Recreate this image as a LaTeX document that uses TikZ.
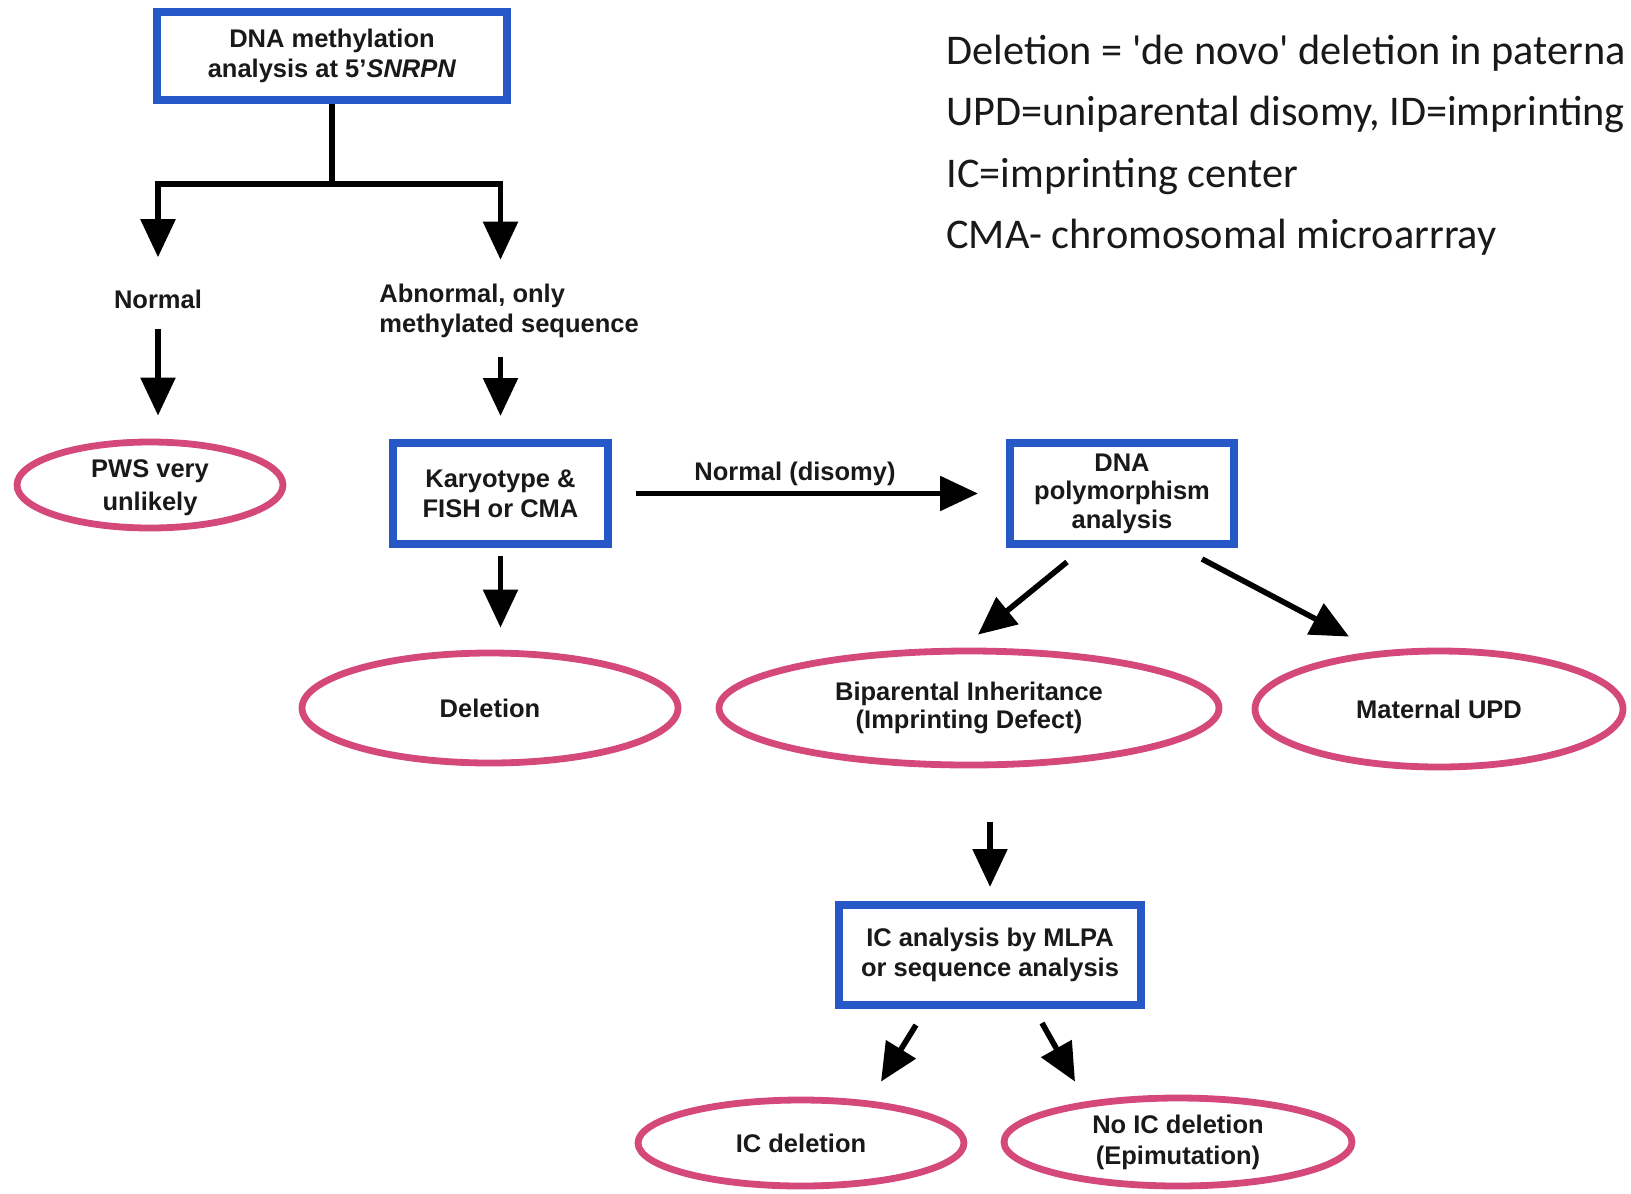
\documentclass[tikz,border=0pt]{standalone}
\usepackage{fontspec}
\setmainfont{Liberation Sans}
\newfontfamily\legendfont{Carlito}
\usetikzlibrary{arrows.meta,shapes.geometric,calc}
\definecolor{boxblue}{RGB}{38,88,200}
\definecolor{ovalpink}{RGB}{212,72,122}
\definecolor{ink}{RGB}{25,25,25}
\begin{document}
\begin{tikzpicture}[x=0.5pt,y=-0.5pt,
  every node/.style={text=ink, font=\fontsize{12.75}{15}\selectfont\bfseries},
  bluebox/.style={draw=boxblue, line width=4pt, fill=white, align=center, inner sep=0pt},
  oval/.style={ellipse, draw=ovalpink, line width=3.4pt, fill=white, align=center, inner sep=0pt},
  lbl/.style={inner sep=0pt, align=center},
  conn/.style={draw=black, line width=2.8pt},
  arr/.style={conn, -{Triangle[length=19pt,width=17pt]}},
  legend/.style={inner sep=0pt, anchor=base west, font=\legendfont\fontsize{21.15}{25}\selectfont}
]
\path[use as bounding box, fill=white] (0,0) rectangle (1631,1193);

% legend
\node[legend] (l1) at (946,64.5) {Deletion = \textquotesingle de novo\textquotesingle{} deletion in paterna};
\node[legend] (l2) at (946,125.5) {UPD=uniparental disomy, ID=imprinting};
\node[legend] (l3) at (946,187.5) {IC=imprinting center};
\node[legend] (l4) at (946,248.5) {CMA- chromosomal microarrray};

% nodes
\node[bluebox, minimum width=175pt, minimum height=44pt] (top) at (332,56) {DNA methylation\\analysis at 5'\textit{SNRPN}};
\node[lbl] (normal) at (158,299) {Normal};
\node[lbl, anchor=west, align=left] (abn) at (379,311) {Abnormal, only\\methylated sequence};
\node[oval, minimum width=133pt, minimum height=43pt, text depth=0pt, font=\fontsize{12.75}{16.5}\selectfont\bfseries] (pws) at (150,485) {PWS very\\unlikely};
\node[bluebox, minimum width=107.5pt, minimum height=50.5pt] (kar) at (500.5,493.5) {Karyotype \&\\FISH or CMA};
\node[bluebox, minimum width=112pt, minimum height=50.5pt, font=\fontsize{12.75}{14.3}\selectfont\bfseries] (poly) at (1122,493.5) {DNA\\polymorphism\\analysis};
\node[lbl] (disomy) at (795,474) {Normal (disomy)};
\node[oval, minimum width=188pt, minimum height=55pt] (del) at (490,708) {Deletion};
\node[oval, minimum width=250pt, minimum height=57pt, font=\fontsize{12.75}{14}\selectfont\bfseries] (bip) at (969,708) {Biparental Inheritance\\(Imprinting Defect)};
\node[oval, minimum width=184pt, minimum height=58pt] (mat) at (1439,709) {Maternal UPD};
\node[bluebox, minimum width=151pt, minimum height=50pt] (ic) at (990,955) {IC analysis by MLPA\\or sequence analysis};
\node[oval, minimum width=163pt, minimum height=43pt] (icdel) at (801,1143) {IC deletion};
\node[oval, minimum width=174pt, minimum height=44pt, font=\fontsize{12.75}{15.5}\selectfont\bfseries] (noic) at (1178,1142) {No IC deletion\\(Epimutation)};

% connectors
\coordinate (jm) at (332,184);
\draw[conn] (top.south) -- (jm);
\draw[arr, shorten >=16pt] (jm) -| (normal.north);
\draw[arr, shorten >=12pt] (jm) -| (abn.north -| kar.north);
\draw[arr, shorten <=10pt, shorten >=11.5pt] (normal.south) -- (normal.south |- pws.north);
\draw[arr, shorten <=9.5pt, shorten >=11.5pt] (abn.south -| kar.north) -- (kar.north);
\draw[arr, shorten <=4pt, shorten >=11pt] (kar.south) -- (kar.south |- del.north);
\draw[arr, shorten <=12pt, shorten >=14pt] (kar.east) -- (poly.west);
\draw[arr] ([xshift=-27.5pt,yshift=-7pt]poly.south) -- ([xshift=4.5pt,yshift=6.5pt]bip.north);
\draw[arr] ([xshift=40pt,yshift=-5.5pt]poly.south) -- ([xshift=-45pt,yshift=5.5pt]mat.north);
\draw[arr, shorten <=27pt, shorten >=7pt] (bip.south -| ic.north) -- (ic.north);
\draw[arr] ([xshift=-37pt,yshift=-8pt]ic.south) -- ([xshift=40pt,yshift=7.5pt]icdel.north);
\draw[arr] ([xshift=26pt,yshift=-7pt]ic.south) -- ([xshift=-51.5pt,yshift=6.5pt]noic.north);
\end{tikzpicture}
\end{document}
